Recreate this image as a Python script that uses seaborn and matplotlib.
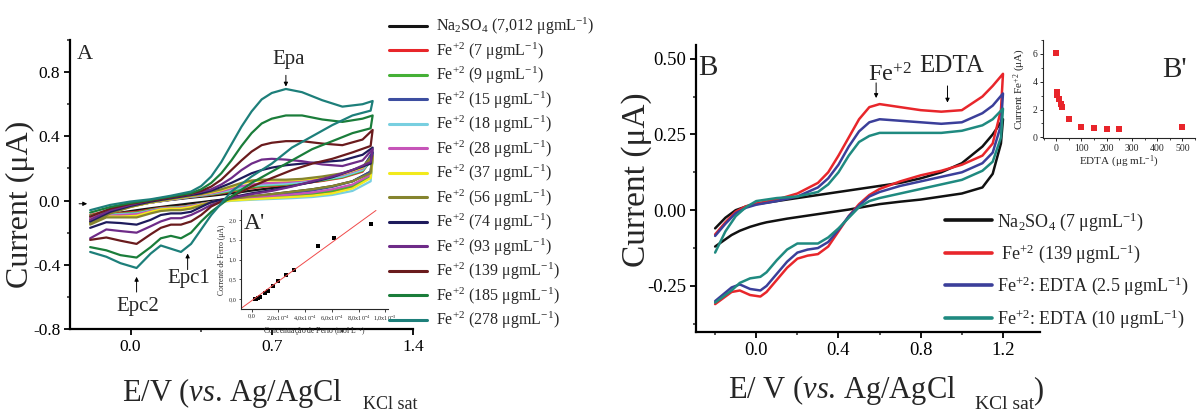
import matplotlib
matplotlib.use("Agg")
import matplotlib.pyplot as plt
import numpy as np
import pandas as pd
import seaborn as sns
from matplotlib.lines import Line2D
from matplotlib.ticker import FixedLocator, MultipleLocator

# ---------------- data: panel A (CV of Fe2+ at increasing concentration) ----
E_UP_A = [-0.2, -0.1, 0.0, 0.1, 0.2, 0.3, 0.35, 0.4, 0.45, 0.5, 0.55, 0.6,
          0.65, 0.7, 0.77, 0.85, 0.95, 1.05, 1.15, 1.2]
E_DN_A = [1.2, 1.19, 1.1, 1.0, 0.9, 0.8, 0.7, 0.6, 0.5, 0.4, 0.35, 0.3,
          0.25, 0.2, 0.15, 0.1, 0.03, -0.05, -0.12, -0.2]

labels_a = [
    r"Na$_2$SO$_4$ (7,012 μgmL$^{-1}$)",
    r"Fe$^{+2}$ (7 μgmL$^{-1}$)",
    r"Fe$^{+2}$ (9 μgmL$^{-1}$)",
    r"Fe$^{+2}$ (15 μgmL$^{-1}$)",
    r"Fe$^{+2}$ (18 μgmL$^{-1}$)",
    r"Fe$^{+2}$ (28 μgmL$^{-1}$)",
    r"Fe$^{+2}$ (37 μgmL$^{-1}$)",
    r"Fe$^{+2}$ (56 μgmL$^{-1}$)",
    r"Fe$^{+2}$ (74 μgmL$^{-1}$)",
    r"Fe$^{+2}$ (93 μgmL$^{-1}$)",
    r"Fe$^{+2}$ (139 μgmL$^{-1}$)",
    r"Fe$^{+2}$ (185 μgmL$^{-1}$)",
    r"Fe$^{+2}$ (278 μgmL$^{-1}$)",
]
colors_a = ["#141414", "#e8262a", "#45b036", "#3d4ea0", "#78cfe0", "#c654b8",
            "#f2ea1c", "#85842e", "#1e1b5c", "#6e2b88", "#6a1b1d", "#1a7d3a",
            "#1d7f7a"]

up_na2so4 = [-0.12, -0.07, -0.035, -0.012, 0.004, 0.018, 0.024, 0.03, 0.037, 0.045, 0.053, 0.062, 0.07, 0.078, 0.09, 0.105, 0.125, 0.15, 0.20, 0.30]
dn_na2so4 = [0.30, 0.18, 0.12, 0.09, 0.07, 0.055, 0.04, 0.025, 0.012, -0.002, -0.01, -0.017, -0.025, -0.032, -0.04, -0.048, -0.06, -0.075, -0.09, -0.13]
up_fe7 = [-0.09, -0.06, -0.033, -0.012, 0.005, 0.022, 0.029, 0.036, 0.045, 0.056, 0.067, 0.077, 0.085, 0.09, 0.097, 0.107, 0.122, 0.142, 0.18, 0.27]
dn_fe7 = [0.27, 0.15, 0.085, 0.055, 0.04, 0.03, 0.022, 0.014, 0.003, -0.01, -0.02, -0.03, -0.038, -0.041, -0.045, -0.055, -0.07, -0.078, -0.085, -0.115]
up_fe9 = [-0.095, -0.062, -0.034, -0.012, 0.006, 0.023, 0.03, 0.038, 0.048, 0.06, 0.072, 0.082, 0.09, 0.095, 0.10, 0.11, 0.125, 0.145, 0.185, 0.26]
dn_fe9 = [0.26, 0.15, 0.09, 0.06, 0.043, 0.032, 0.024, 0.015, 0.004, -0.01, -0.02, -0.032, -0.04, -0.043, -0.048, -0.058, -0.075, -0.082, -0.088, -0.12]
up_fe15 = [-0.11, -0.068, -0.037, -0.012, 0.006, 0.024, 0.033, 0.044, 0.056, 0.07, 0.085, 0.095, 0.10, 0.105, 0.11, 0.12, 0.135, 0.155, 0.20, 0.30]
dn_fe15 = [0.30, 0.18, 0.12, 0.085, 0.062, 0.047, 0.035, 0.022, 0.008, -0.01, -0.022, -0.037, -0.048, -0.05, -0.055, -0.07, -0.09, -0.095, -0.10, -0.135]
up_fe18 = [-0.10, -0.065, -0.035, -0.012, 0.006, 0.024, 0.032, 0.042, 0.053, 0.066, 0.08, 0.09, 0.097, 0.10, 0.105, 0.115, 0.13, 0.15, 0.19, 0.26]
dn_fe18 = [0.26, 0.12, 0.06, 0.035, 0.022, 0.015, 0.01, 0.005, -0.002, -0.013, -0.022, -0.033, -0.042, -0.045, -0.05, -0.062, -0.08, -0.085, -0.09, -0.125]
up_fe28 = [-0.11, -0.07, -0.038, -0.012, 0.007, 0.026, 0.035, 0.045, 0.058, 0.075, 0.09, 0.10, 0.107, 0.11, 0.115, 0.125, 0.14, 0.16, 0.20, 0.27]
dn_fe28 = [0.27, 0.16, 0.10, 0.07, 0.05, 0.038, 0.028, 0.018, 0.006, -0.01, -0.022, -0.035, -0.045, -0.047, -0.052, -0.065, -0.085, -0.09, -0.095, -0.13]
up_fe37 = [-0.12, -0.075, -0.04, -0.012, 0.008, 0.028, 0.038, 0.05, 0.065, 0.085, 0.105, 0.12, 0.125, 0.125, 0.125, 0.13, 0.145, 0.165, 0.205, 0.27]
dn_fe37 = [0.27, 0.14, 0.075, 0.045, 0.03, 0.022, 0.015, 0.008, 0.0, -0.012, -0.025, -0.04, -0.05, -0.05, -0.055, -0.07, -0.095, -0.10, -0.10, -0.14]
up_fe56 = [-0.14, -0.08, -0.04, -0.01, 0.01, 0.03, 0.04, 0.055, 0.07, 0.09, 0.11, 0.125, 0.13, 0.13, 0.13, 0.135, 0.15, 0.17, 0.21, 0.28]
dn_fe56 = [0.28, 0.17, 0.12, 0.09, 0.07, 0.055, 0.04, 0.027, 0.01, -0.01, -0.03, -0.05, -0.06, -0.06, -0.065, -0.08, -0.105, -0.105, -0.105, -0.15]
up_fe74 = [-0.13, -0.07, -0.033, -0.006, 0.015, 0.035, 0.045, 0.062, 0.085, 0.11, 0.14, 0.17, 0.19, 0.205, 0.22, 0.23, 0.24, 0.25, 0.285, 0.33]
dn_fe74 = [0.33, 0.23, 0.19, 0.145, 0.115, 0.09, 0.065, 0.045, 0.02, -0.01, -0.04, -0.07, -0.08, -0.08, -0.09, -0.12, -0.15, -0.14, -0.135, -0.17]
up_fe93 = [-0.12, -0.06, -0.027, 0.0, 0.02, 0.04, 0.055, 0.07, 0.10, 0.14, 0.19, 0.23, 0.255, 0.26, 0.255, 0.245, 0.225, 0.215, 0.25, 0.32]
dn_fe93 = [0.32, 0.24, 0.19, 0.15, 0.12, 0.087, 0.06, 0.04, 0.015, -0.027, -0.06, -0.09, -0.11, -0.11, -0.13, -0.16, -0.20, -0.19, -0.18, -0.235]
up_fe139 = [-0.10, -0.05, -0.02, 0.0, 0.02, 0.042, 0.06, 0.087, 0.13, 0.19, 0.25, 0.305, 0.345, 0.36, 0.37, 0.37, 0.355, 0.345, 0.38, 0.44]
dn_fe139 = [0.44, 0.34, 0.30, 0.26, 0.23, 0.19, 0.14, 0.087, 0.025, -0.037, -0.09, -0.13, -0.15, -0.15, -0.17, -0.21, -0.27, -0.25, -0.23, -0.245]
up_fe185 = [-0.075, -0.04, -0.015, 0.004, 0.025, 0.046, 0.07, 0.11, 0.17, 0.25, 0.34, 0.42, 0.48, 0.51, 0.53, 0.53, 0.505, 0.49, 0.51, 0.53]
dn_fe185 = [0.53, 0.45, 0.42, 0.37, 0.32, 0.25, 0.18, 0.11, 0.025, -0.07, -0.13, -0.20, -0.235, -0.22, -0.235, -0.29, -0.355, -0.34, -0.31, -0.29]
up_fe278 = [-0.06, -0.027, -0.006, 0.008, 0.03, 0.056, 0.09, 0.15, 0.24, 0.35, 0.46, 0.555, 0.63, 0.67, 0.695, 0.675, 0.625, 0.585, 0.60, 0.62]
dn_fe278 = [0.62, 0.56, 0.53, 0.47, 0.40, 0.33, 0.23, 0.15, 0.056, -0.09, -0.18, -0.27, -0.32, -0.30, -0.28, -0.33, -0.42, -0.39, -0.35, -0.32]

up_a = [up_na2so4, up_fe7, up_fe9, up_fe15, up_fe18, up_fe28, up_fe37,
        up_fe56, up_fe74, up_fe93, up_fe139, up_fe185, up_fe278]
dn_a = [dn_na2so4, dn_fe7, dn_fe9, dn_fe15, dn_fe18, dn_fe28, dn_fe37,
        dn_fe56, dn_fe74, dn_fe93, dn_fe139, dn_fe185, dn_fe278]

# calibration inset A'
conc_fe = [2.3e-5, 3.5e-5, 4.7e-5, 6.0e-5, 9.8e-5, 1.23e-4, 1.6e-4, 1.98e-4,
           2.56e-4, 3.16e-4, 4.94e-4, 6.17e-4, 8.92e-4]
curr_fe = [0.0, 0.01, 0.03, 0.06, 0.16, 0.21, 0.33, 0.45, 0.61, 0.73, 1.35,
           1.54, 1.89]
fit_slope = 2450.0
fit_intercept = -0.04
fit_range = [-7.7e-5, 9.3e-4]

# ---------------- data: panel B (Fe2+ with EDTA) ----------------------------
E_UP_B = [-0.2, -0.15, -0.1, -0.05, 0.0, 0.1, 0.2, 0.3, 0.35, 0.4, 0.45, 0.5,
          0.55, 0.6, 0.7, 0.8, 0.9, 1.0, 1.1, 1.15, 1.2]
E_DN_B = [1.2, 1.19, 1.15, 1.1, 1.0, 0.9, 0.8, 0.7, 0.6, 0.55, 0.5, 0.45, 0.4,
          0.35, 0.3, 0.25, 0.2, 0.15, 0.1, 0.05, 0.02, -0.03, -0.08, -0.12, -0.2]

labels_b = [
    r"Na$_2$SO$_4$ (7 μgmL$^{-1}$)",
    r" Fe$^{+2}$ (139 μgmL$^{-1}$)",
    r"Fe$^{+2}$: EDTA (2.5 μgmL$^{-1}$)",
    r"Fe$^{+2}$: EDTA (10 μgmL$^{-1}$)",
]
colors_b = ["#111111", "#e8262b", "#3b3f9a", "#1f8a80"]

up_b_na2so4 = [-0.06, -0.025, 0.0, 0.012, 0.02, 0.03, 0.04, 0.05, 0.055, 0.06, 0.065, 0.07, 0.075, 0.08, 0.09, 0.105, 0.125, 0.155, 0.21, 0.25, 0.30]
dn_b_na2so4 = [0.30, 0.22, 0.12, 0.075, 0.055, 0.045, 0.035, 0.028, 0.02, 0.014, 0.008, 0.002, -0.003, -0.008, -0.013, -0.018, -0.023, -0.028, -0.034, -0.04, -0.045, -0.055, -0.068, -0.082, -0.12]
up_b_fe = [-0.08, -0.04, -0.005, 0.013, 0.022, 0.035, 0.055, 0.09, 0.125, 0.18, 0.24, 0.30, 0.34, 0.35, 0.34, 0.33, 0.325, 0.33, 0.375, 0.41, 0.45]
dn_b_fe = [0.45, 0.33, 0.22, 0.18, 0.15, 0.13, 0.115, 0.095, 0.07, 0.05, 0.02, -0.02, -0.07, -0.12, -0.145, -0.15, -0.16, -0.19, -0.23, -0.27, -0.285, -0.28, -0.265, -0.27, -0.31]
up_b_edta25 = [-0.085, -0.045, -0.01, 0.008, 0.018, 0.03, 0.045, 0.075, 0.105, 0.15, 0.21, 0.26, 0.29, 0.30, 0.295, 0.29, 0.285, 0.29, 0.32, 0.345, 0.385]
dn_b_edta25 = [0.385, 0.28, 0.19, 0.155, 0.125, 0.11, 0.095, 0.08, 0.06, 0.045, 0.015, -0.02, -0.065, -0.105, -0.125, -0.13, -0.14, -0.17, -0.21, -0.25, -0.265, -0.26, -0.245, -0.255, -0.30]
up_b_edta10 = [-0.14, -0.07, -0.02, 0.01, 0.03, 0.04, 0.045, 0.06, 0.085, 0.125, 0.18, 0.225, 0.245, 0.255, 0.255, 0.255, 0.255, 0.262, 0.28, 0.30, 0.335]
dn_b_edta10 = [0.335, 0.24, 0.16, 0.13, 0.10, 0.085, 0.07, 0.055, 0.04, 0.03, 0.01, -0.025, -0.06, -0.09, -0.11, -0.11, -0.11, -0.13, -0.165, -0.205, -0.22, -0.225, -0.24, -0.265, -0.305]

up_b = [up_b_na2so4, up_b_fe, up_b_edta25, up_b_edta10]
dn_b = [dn_b_na2so4, dn_b_fe, dn_b_edta25, dn_b_edta10]

# titration inset B'
edta_conc = [0, 2.5, 5, 10, 20, 25, 50, 100, 150, 200, 250, 500]
edta_curr = [6.1, 3.25, 3.05, 2.75, 2.4, 2.2, 1.32, 0.77, 0.67, 0.6, 0.6, 0.72]


def loops(labels, e_up, e_dn, ups, dns):
    rows = []
    for name, up, dn in zip(labels, ups, dns):
        for e, i in zip(list(e_up) + list(e_dn), list(up) + list(dn)):
            rows.append((name, e, i))
    return pd.DataFrame(rows, columns=["series", "E", "I"])


df_a = loops(labels_a, E_UP_A, E_DN_A, up_a, dn_a)
df_b = loops(labels_b, E_UP_B, E_DN_B, up_b, dn_b)
df_cal = pd.DataFrame({"c": conc_fe, "i": curr_fe})
df_fit = pd.DataFrame({"c": fit_range,
                       "i": [fit_slope * c + fit_intercept for c in fit_range]})
df_edta = pd.DataFrame({"c": edta_conc, "i": edta_curr})

# ---------------- styling ---------------------------------------------------
sns.set_style("ticks")
plt.rcParams["font.family"] = ["Liberation Serif", "DejaVu Serif"]
plt.rcParams["mathtext.fontset"] = "custom"
plt.rcParams["mathtext.rm"] = "Liberation Serif"
plt.rcParams["mathtext.it"] = "Liberation Serif:italic"
plt.rcParams["mathtext.bf"] = "Liberation Serif:bold"
plt.rcParams["axes.unicode_minus"] = False

W, H = 1198, 412
fig = plt.figure(figsize=(W / 100, H / 100), dpi=100)


def rect(l, t, r, b):
    return [l / W, 1 - b / H, (r - l) / W, (b - t) / H]


def fpos(x, y):
    return x / W, 1 - y / H


ax_a = fig.add_axes(rect(70, 40, 413, 329))
ax_b = fig.add_axes(rect(696, 45, 1040, 332))
ax_ai = fig.add_axes(rect(241, 210, 388, 309))
ax_bi = fig.add_axes(rect(1043, 40, 1195, 138))


def style_main(ax):
    sns.despine(ax=ax)
    for s in ("left", "bottom"):
        ax.spines[s].set_linewidth(1.6)
        ax.spines[s].set_color("black")
    ax.tick_params(which="major", direction="out", length=4, width=1.3,
                   labelsize=12.5, colors="black", pad=3)
    ax.tick_params(which="minor", direction="out", length=2.5, width=1.1)
    ax.set_xlabel("")
    ax.set_ylabel("")


# ---------------- panel A ---------------------------------------------------
sns.lineplot(data=df_a, x="E", y="I", hue="series", hue_order=labels_a,
             palette=colors_a, sort=False, estimator=None, lw=1.6,
             legend=False, ax=ax_a)
ax_a.set_xlim(-0.30, 1.4)
ax_a.set_ylim(-0.8, 1.0)
ax_a.xaxis.set_major_locator(FixedLocator([0.0, 0.7, 1.4]))
ax_a.xaxis.set_minor_locator(FixedLocator([0.35, 1.05]))
ax_a.yaxis.set_major_locator(FixedLocator([-0.8, -0.4, 0.0, 0.4, 0.8]))
ax_a.yaxis.set_minor_locator(FixedLocator([-0.6, -0.2, 0.2, 0.6, 1.0]))
ax_a.set_xticklabels(["0.0", "0.7", "1.4"])
ax_a.set_yticklabels(["-0.8", "-0.4", "0.0", "0.4", "0.8"])
style_main(ax_a)

ax_a.text(-0.265, 0.91, "A", fontsize=16, va="center", ha="left")
ax_a.text(0.785, 0.88, "Epa", fontsize=15, va="center", ha="center")
ax_a.text(0.29, -0.485, "Epc1", fontsize=15, va="center", ha="center")
ax_a.text(0.035, -0.66, "Epc2", fontsize=15, va="center", ha="center")
arrow = dict(arrowstyle="-|>", color="black", lw=0.7, mutation_scale=6,
             shrinkA=0, shrinkB=0)
ax_a.annotate("", xy=(0.77, 0.71), xytext=(0.77, 0.78), arrowprops=arrow)
ax_a.annotate("", xy=(0.283, -0.33), xytext=(0.283, -0.43), arrowprops=arrow)
ax_a.annotate("", xy=(0.03, -0.475), xytext=(0.03, -0.57), arrowprops=arrow)
ax_a.annotate("", xy=(-0.215, -0.02), xytext=(-0.255, -0.02), arrowprops=arrow)

fig.text(*fpos(20, 204), "Current (μA)", rotation=90, fontsize=23,
         ha="center", va="center")
fig.text(*fpos(122, 401), r"E/V ($\it{vs}$. Ag/AgCl", fontsize=22,
         ha="left", va="baseline")
fig.text(*fpos(363, 409), "KCl sat", fontsize=13, ha="left", va="baseline")

handles_a = [Line2D([], [], color=c, lw=2.2) for c in colors_a]
fig.legend(handles_a, labels_a, loc="upper left",
           bbox_to_anchor=fpos(389, 16), frameon=False, fontsize=11.5,
           handlelength=2.4, handletextpad=0.55, labelspacing=0.2,
           borderpad=0, borderaxespad=0)

# inset A'
sns.lineplot(data=df_fit, x="c", y="i", color="#f04a4a", lw=0.7, ax=ax_ai)
sns.scatterplot(data=df_cal, x="c", y="i", color="black", marker="s", s=6,
                linewidth=0, ax=ax_ai)
ax_ai.set_xlim(-8e-5, 1.02e-3)
ax_ai.set_ylim(-0.25, 2.25)
ax_ai.xaxis.set_major_locator(FixedLocator([0, 2e-4, 4e-4, 6e-4, 8e-4, 1e-3]))
ax_ai.set_xticklabels(["0,0", r"2,0x10$^{-4}$", r"4,0x10$^{-4}$",
                       r"6,0x10$^{-4}$", r"8,0x10$^{-4}$", r"1,0x10$^{-3}$"])
ax_ai.yaxis.set_major_locator(FixedLocator([0, 0.5, 1.0, 1.5, 2.0]))
ax_ai.set_yticklabels(["0,0", "0,5", "1,0", "1,5", "2,0"])
sns.despine(ax=ax_ai)
for s in ("left", "bottom"):
    ax_ai.spines[s].set_linewidth(0.8)
ax_ai.tick_params(direction="out", length=1.8, width=0.6, labelsize=4.5,
                  pad=1.5)
ax_ai.set_xlabel("Concentração de Ferro (mol L$^{-1}$)", fontsize=5.5,
                 labelpad=1)
ax_ai.set_ylabel("Corrente de Ferro (μA)", fontsize=5.5, labelpad=1.5)
ax_ai.patch.set_alpha(0)
ax_ai.text(0.02, 0.86, "A'", transform=ax_ai.transAxes, fontsize=17,
           va="center", ha="left")

# ---------------- panel B ---------------------------------------------------
sns.lineplot(data=df_b, x="E", y="I", hue="series", hue_order=labels_b,
             palette=colors_b, sort=False, estimator=None, lw=1.8,
             legend=False, ax=ax_b)
ax_b.set_xlim(-0.293, 1.38)
ax_b.set_ylim(-0.402, 0.545)
ax_b.xaxis.set_major_locator(FixedLocator([0.0, 0.4, 0.8, 1.2]))
ax_b.xaxis.set_minor_locator(FixedLocator([-0.2, 0.2, 0.6, 1.0]))
ax_b.yaxis.set_major_locator(FixedLocator([-0.25, 0.0, 0.25, 0.5]))
ax_b.yaxis.set_minor_locator(FixedLocator([-0.375, -0.125, 0.125, 0.375]))
ax_b.set_xticklabels(["0.0", "0.4", "0.8", "1.2"])
ax_b.set_yticklabels(["-0.25", "0.00", "0.25", "0.50"])
style_main(ax_b)
ax_b.tick_params(which="major", labelsize=13.5)

ax_b.text(-0.28, 0.47, "B", fontsize=21, va="center", ha="left")
ax_b.text(0.545, 0.425, r"Fe$^{+2}$", fontsize=17.5, va="baseline", ha="left")
ax_b.text(0.795, 0.455, "EDTA", fontsize=18, va="baseline", ha="left")
ax_b.annotate("", xy=(0.583, 0.37), xytext=(0.583, 0.42), arrowprops=arrow)
ax_b.annotate("", xy=(0.93, 0.355), xytext=(0.93, 0.41), arrowprops=arrow)

fig.text(*fpos(637, 180), "Current (μA)", rotation=90, fontsize=24,
         ha="center", va="center")
fig.text(*fpos(728, 398), r"E/ V ($\it{vs}$. Ag/AgCl", fontsize=22,
         ha="left", va="baseline")
fig.text(*fpos(975, 409), "KCl sat", fontsize=14, ha="left", va="baseline")
fig.text(*fpos(1033, 398), ")", fontsize=22, ha="left", va="baseline")

handles_b = [Line2D([], [], color=c, lw=2.6) for c in colors_b]
fig.legend(handles_b, labels_b, loc="upper left",
           bbox_to_anchor=fpos(945, 210), frameon=False, fontsize=13,
           handlelength=2.6, handletextpad=0.3, labelspacing=0.55,
           borderpad=0, borderaxespad=0)

# inset B'
sns.scatterplot(data=df_edta, x="c", y="i", color="#e8242a", marker="s", s=14,
                linewidth=0, ax=ax_bi)
ax_bi.set_xlim(-52, 550)
ax_bi.set_ylim(-0.05, 7.0)
ax_bi.xaxis.set_major_locator(MultipleLocator(100))
ax_bi.xaxis.set_minor_locator(MultipleLocator(50))
ax_bi.yaxis.set_major_locator(MultipleLocator(2))
ax_bi.yaxis.set_minor_locator(MultipleLocator(1))
sns.despine(ax=ax_bi)
for s in ("left", "bottom"):
    ax_bi.spines[s].set_linewidth(0.8)
ax_bi.tick_params(which="major", direction="out", length=2.5, width=0.7,
                  labelsize=7, pad=1.5)
ax_bi.tick_params(which="minor", direction="out", length=1.5, width=0.6)
ax_bi.set_xlabel("EDTA (μg mL$^{-1}$)", fontsize=8, labelpad=1)
ax_bi.set_ylabel(r"Current Fe$^{+2}$ (μA)", fontsize=8, labelpad=3)
ax_bi.patch.set_alpha(0)
fig.text(*fpos(1162, 77), "B'", fontsize=21, ha="left", va="baseline")

fig.savefig("out.png", dpi=100)
